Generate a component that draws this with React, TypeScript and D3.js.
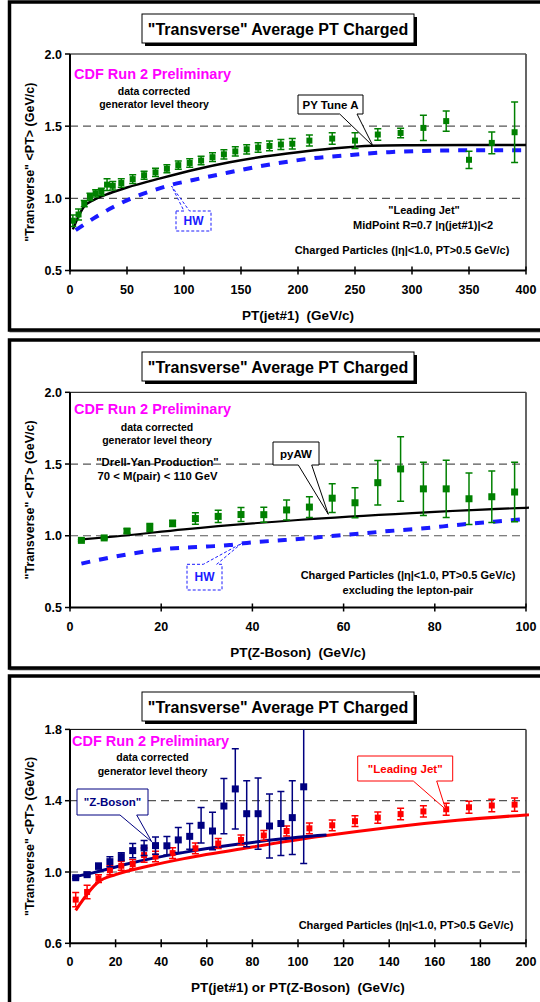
import React from 'react';
import * as d3 from 'd3';

const FONT = '"Liberation Sans", Arial, Helvetica, sans-serif';

// ---------- Data: "Leading Jet" (PT(jet#1)) ----------
const jetPt = [2.5, 7.5, 12.5, 17.5, 22.5, 27.5, 32.5, 37.5, 45, 55, 65, 75, 85, 95, 105, 115, 125, 135, 145, 155, 165, 175, 185, 195, 210, 230, 250, 270, 290, 310, 330, 350, 370, 390];
const jetAvgPt = [0.845, 0.888, 0.963, 1.01, 1.035, 1.045, 1.095, 1.087, 1.106, 1.133, 1.16, 1.18, 1.205, 1.23, 1.245, 1.262, 1.285, 1.305, 1.325, 1.34, 1.352, 1.363, 1.373, 1.378, 1.4, 1.414, 1.4, 1.442, 1.453, 1.488, 1.535, 1.267, 1.384, 1.458];
const jetErr = [0.04, 0.038, 0.022, 0.025, 0.025, 0.025, 0.04, 0.03, 0.03, 0.03, 0.028, 0.028, 0.028, 0.028, 0.03, 0.03, 0.03, 0.032, 0.032, 0.032, 0.033, 0.034, 0.035, 0.037, 0.038, 0.04, 0.055, 0.04, 0.033, 0.087, 0.07, 0.06, 0.075, 0.21];

// ---------- Data: Z-Boson (Drell-Yan) ----------
const zPt = [2.5, 7.5, 12.5, 17.5, 22.5, 27.5, 32.5, 37.5, 42.5, 47.5, 52.5, 57.5, 62.5, 67.5, 72.5, 77.5, 82.5, 87.5, 92.5, 97.5, 102.5];
const zAvgPt = [0.968, 0.985, 1.033, 1.058, 1.086, 1.12, 1.135, 1.148, 1.147, 1.18, 1.2, 1.262, 1.23, 1.37, 1.466, 1.327, 1.327, 1.258, 1.272, 1.305, 1.478];
const zErr = [0.006, 0.008, 0.016, 0.028, 0.022, 0.04, 0.042, 0.049, 0.052, 0.07, 0.072, 0.1, 0.105, 0.155, 0.225, 0.185, 0.2, 0.18, 0.18, 0.207, 0.43];

// ---------- Theory curves ----------
const pyTuneAPt = [2.5, 12.5, 20, 35, 50, 80, 110, 140, 170, 200, 230, 265, 300, 350, 400];
const pyTuneAAvg = [0.785, 0.945, 0.985, 1.035, 1.075, 1.14, 1.2, 1.25, 1.29, 1.32, 1.345, 1.364, 1.368, 1.37, 1.369];
const hwJetPt = [5, 23, 38, 54, 73, 88, 108, 138, 167, 196, 210, 240, 260, 280, 317, 347, 400];
const hwJetAvg = [0.78, 0.872, 0.94, 1.0, 1.055, 1.092, 1.127, 1.177, 1.223, 1.26, 1.275, 1.296, 1.31, 1.32, 1.33, 1.333, 1.333];
const pyAWPt = [2.5, 10, 25, 50, 75, 100, 112.5];
const pyAWAvg = [0.974, 0.995, 1.045, 1.11, 1.158, 1.195, 1.207];
const hwZPt = [2.5, 7.5, 12.5, 20, 30, 35, 38, 47, 60, 70, 77, 86, 93, 100];
const hwZAvg = [0.806, 0.84, 0.87, 0.905, 0.925, 0.935, 0.948, 0.97, 1.005, 1.033, 1.05, 1.079, 1.098, 1.116];

// ---------- Ticks ----------
const xTicksJet = [0, 50, 100, 150, 200, 250, 300, 350, 400];
const xTicksZ = [0, 20, 40, 60, 80, 100];
const xTicksBoth = [0, 20, 40, 60, 80, 100, 120, 140, 160, 180, 200];
const yTicksA = [0.5, 1.0, 1.5, 2.0];
const yTicksB = [0.6, 1.0, 1.4, 1.8];

const TITLE = '"Transverse" Average PT Charged';
const YLABEL = '"Transverse" <PT> (GeV/c)';

const PL = 70;
const PR = 526;

type Scale = d3.ScaleLinear<number, number>;

function zip(a: number[], b: number[]): [number, number][] {
  return a.map((v, i) => [v, b[i]] as [number, number]);
}

function Points(props: { xs: number[]; ys: number[]; es: number[]; x: Scale; y: Scale; color: string; size: number; xMax: number }) {
  const { xs, ys, es, x, y, color, size, xMax } = props;
  return (
    <g>
      {xs.map((v, i) => {
        if (v > xMax) return null;
        const cx = x(v);
        const cy = y(ys[i]);
        const y1 = y(ys[i] + es[i]);
        const y2 = y(ys[i] - es[i]);
        return (
          <g key={i}>
            <line x1={cx} x2={cx} y1={y1} y2={y2} stroke={color} strokeWidth={1.5} />
            <line x1={cx - 3.5} x2={cx + 3.5} y1={y1} y2={y1} stroke={color} strokeWidth={1.5} />
            <line x1={cx - 3.5} x2={cx + 3.5} y1={y2} y2={y2} stroke={color} strokeWidth={1.5} />
            <rect x={cx - size / 2} y={cy - size / 2} width={size} height={size} fill={color} />
          </g>
        );
      })}
    </g>
  );
}

function Callout(props: { x0: number; x1: number; y0: number; y1: number; b1: number; b2: number; tx: number; ty: number; side: 'top' | 'bottom'; color: string; dash?: string; text: string; fontSize: number }) {
  const { x0, x1, y0, y1, b1, b2, tx, ty, side, color, dash, text, fontSize } = props;
  const d =
    side === 'bottom'
      ? `M${x0},${y0}H${x1}V${y1}H${b2}L${tx},${ty}L${b1},${y1}H${x0}Z`
      : `M${x0},${y0}H${b1}L${tx},${ty}L${b2},${y0}H${x1}V${y1}H${x0}Z`;
  return (
    <g>
      <path d={d} fill="white" stroke={color} strokeWidth={1} strokeDasharray={dash} />
      <text x={(x0 + x1) / 2} y={(y0 + y1) / 2 + fontSize * 0.36} textAnchor="middle" fontFamily={FONT} fontWeight="bold" fontSize={fontSize} fill={color}>
        {text}
      </text>
    </g>
  );
}

interface PanelCfg {
  id: string;
  o: number;
  xMax: number;
  yMin: number;
  yMax: number;
  top: number;
  bottom: number;
  xTicks: number[];
  yTicks: number[];
  grids: number[];
  titleTop: number;
  xTitle: string;
  frameH: number;
}

function Panel(props: { cfg: PanelCfg; children: (x: Scale, y: Scale) => React.ReactNode; }) {
  const { cfg, children } = props;
  const { o, xMax, yMin, yMax, top, bottom, xTicks, yTicks, grids, titleTop, xTitle, frameH, id } = cfg;
  const x = d3.scaleLinear().domain([0, xMax]).range([PL, PR]);
  const y = d3.scaleLinear().domain([yMin, yMax]).range([o + bottom, o + top]);
  const T = o + top;
  const B = o + bottom;
  return (
    <g>
      {/* outer frame */}
      <rect x={9.5} y={o + 2} width={560} height={frameH} fill="white" stroke="black" strokeWidth={3.5} />
      <line x1={9.5} x2={560} y1={o + 2 + frameH + 1.5} y2={o + 2 + frameH + 1.5} stroke="#222" strokeWidth={1.5} />
      {/* title box */}
      <rect x={145} y={o + titleTop + 3} width={272} height={29} fill="black" />
      <rect x={142} y={o + titleTop} width={272} height={29} fill="white" stroke="black" strokeWidth={1} />
      <text x={278} y={o + titleTop + 20.5} textAnchor="middle" fontFamily={FONT} fontWeight="bold" fontSize={16}>
        {TITLE}
      </text>
      <defs>
        <clipPath id={`clip-${id}`}>
          <rect x={PL - 6} y={T} width={PR - PL + 9} height={B - T} />
        </clipPath>
      </defs>
      {/* plot frame top/right */}
      <line x1={PL} x2={PR} y1={T} y2={T} stroke="black" strokeWidth={1} />
      <line x1={PR} x2={PR} y1={T} y2={B} stroke="#555" strokeWidth={1.8} />
      {/* grid */}
      {grids.map((g) => (
        <line key={g} x1={PL} x2={PR} y1={y(g)} y2={y(g)} stroke="#555" strokeWidth={1.2} strokeDasharray="8 5" />
      ))}
      <g clipPath={`url(#clip-${id})`}>{children(x, y)}</g>
      {/* axes */}
      <line x1={PL} x2={PL} y1={T} y2={B + 1} stroke="black" strokeWidth={2} />
      <line x1={PL} x2={PR} y1={B} y2={B} stroke="black" strokeWidth={2} />
      {xTicks.map((t) => (
        <g key={t}>
          <line x1={x(t)} x2={x(t)} y1={B - 4} y2={B + 4} stroke="black" strokeWidth={1.5} />
          <text x={x(t)} y={B + 23} textAnchor="middle" fontFamily={FONT} fontWeight="bold" fontSize={12.5}>
            {t}
          </text>
        </g>
      ))}
      {yTicks.map((t) => (
        <g key={t}>
          <line x1={PL - 5} x2={PL} y1={y(t)} y2={y(t)} stroke="black" strokeWidth={1.5} />
          <text x={62} y={y(t) + 4.5} textAnchor="end" fontFamily={FONT} fontWeight="bold" fontSize={12.5}>
            {t.toFixed(1)}
          </text>
        </g>
      ))}
      <text transform={`translate(30,${(T + B) / 2}) rotate(-90)`} textAnchor="middle" dominantBaseline="central" fontFamily={FONT} fontWeight="bold" fontSize={12.5}>
        {YLABEL}
      </text>
      <text x={298} y={B + 49} textAnchor="middle" fontFamily={FONT} fontWeight="bold" fontSize={13.5} style={{ whiteSpace: 'pre' }}>
        {xTitle}
      </text>
    </g>
  );
}

function Txt(props: { x: number; y: number; size: number; anchor?: string; color?: string; children: React.ReactNode }) {
  const { x, y, size, anchor, color, children } = props;
  return (
    <text x={x} y={y} textAnchor={anchor || 'middle'} fontFamily={FONT} fontWeight="bold" fontSize={size} fill={color || 'black'} style={{ whiteSpace: 'pre' }}>
      {children}
    </text>
  );
}

export default function App() {
  const lineGen = (x: Scale, y: Scale) =>
    d3
      .line<[number, number]>()
      .x((d) => x(d[0]))
      .y((d) => y(d[1]))
      .curve(d3.curveMonotoneX);

  const p1: PanelCfg = { id: 'p1', o: 0, xMax: 400, yMin: 0.5, yMax: 2.0, top: 54, bottom: 270.5, xTicks: xTicksJet, yTicks: yTicksA, grids: [1.0, 1.5], titleTop: 14, xTitle: 'PT(jet#1)  (GeV/c)', frameH: 328 };
  const p2: PanelCfg = { id: 'p2', o: 338, xMax: 100, yMin: 0.5, yMax: 2.0, top: 54.3, bottom: 269.5, xTicks: xTicksZ, yTicks: yTicksA, grids: [1.0, 1.5], titleTop: 14, xTitle: 'PT(Z-Boson)  (GeV/c)', frameH: 328 };
  const p3: PanelCfg = { id: 'p3', o: 674, xMax: 200, yMin: 0.6, yMax: 1.8, top: 55.4, bottom: 269.3, xTicks: xTicksBoth, yTicks: yTicksB, grids: [1.0, 1.4], titleTop: 18, xTitle: 'PT(jet#1) or PT(Z-Boson)  (GeV/c)', frameH: 360 };

  const eta = 'η';

  return (
    <svg width={540} height={1002} style={{ position: 'absolute', left: 0, top: 0, background: 'white' }} xmlns="http://www.w3.org/2000/svg">
      <rect x={0} y={0} width={540} height={1002} fill="white" />
      {/* Panel 1 */}
      <Panel cfg={p1}>
        {(x, y) => (
          <g>
            <path d={lineGen(x, y)(zip(hwJetPt, hwJetAvg)) || ''} fill="none" stroke="#1a1aff" strokeWidth={4} strokeDasharray="9 9" />
            <path d={lineGen(x, y)(zip(pyTuneAPt, pyTuneAAvg)) || ''} fill="none" stroke="black" strokeWidth={2.5} />
            <Points xs={jetPt} ys={jetAvgPt} es={jetErr} x={x} y={y} color="#008000" size={6} xMax={400} />
          </g>
        )}
      </Panel>
      <Txt x={74} y={78.5} size={14.5} anchor="start" color="#ff00ff">CDF Run 2 Preliminary</Txt>
      <Txt x={154} y={94.5} size={10.5}>data corrected</Txt>
      <Txt x={154} y={108} size={10.5}>generator level theory</Txt>
      <Txt x={424} y={213.5} size={11}>"Leading Jet"</Txt>
      <Txt x={423} y={228.5} size={11}>{`MidPoint R=0.7 |${eta}(jet#1)|<2`}</Txt>
      <Txt x={402} y={254} size={11}>{`Charged Particles (|${eta}|<1.0, PT>0.5 GeV/c)`}</Txt>
      <Callout x0={298} x1={363} y0={95} y1={114} b1={339.7} b2={357} tx={373} ty={146} side="bottom" color="black" text="PY Tune A" fontSize={11.5} />
      <Callout x0={176} x1={211} y0={211} y1={231} b1={184} b2={189.5} tx={171.5} ty={186} side="top" color="#1a1aff" dash="3 2" text="HW" fontSize={12} />

      {/* Panel 2 */}
      <Panel cfg={p2}>
        {(x, y) => (
          <g>
            <path d={lineGen(x, y)(zip(hwZPt, hwZAvg)) || ''} fill="none" stroke="#1a1aff" strokeWidth={4} strokeDasharray="9 9" />
            <path d={lineGen(x, y)(zip(pyAWPt, pyAWAvg)) || ''} fill="none" stroke="black" strokeWidth={2.2} />
            <Points xs={zPt} ys={zAvgPt} es={zErr} x={x} y={y} color="#008000" size={7} xMax={100} />
          </g>
        )}
      </Panel>
      <Txt x={74} y={338 + 75.5} size={14.5} anchor="start" color="#ff00ff">CDF Run 2 Preliminary</Txt>
      <Txt x={157} y={338 + 92.5} size={10.5}>data corrected</Txt>
      <Txt x={157} y={338 + 106.3} size={10.5}>generator level theory</Txt>
      <Txt x={157.5} y={338 + 128.3} size={11.3}>"Drell-Yan Production"</Txt>
      <Txt x={157.5} y={338 + 141.5} size={11.3}>70 &lt; M(pair) &lt; 110 GeV</Txt>
      <Txt x={408} y={338 + 241.4} size={11}>{`Charged Particles (|${eta}|<1.0, PT>0.5 GeV/c)`}</Txt>
      <Txt x={408} y={338 + 256} size={11}>excluding the lepton-pair</Txt>
      <Callout x0={273} x1={319} y0={338 + 104} y1={338 + 127} b1={298.3} b2={311.7} tx={328.3} ty={338 + 176.3} side="bottom" color="black" text="pyAW" fontSize={11.5} />
      <Callout x0={187} x1={222} y0={338 + 226.3} y1={338 + 252} b1={203.3} b2={216.7} tx={241.7} ty={338 + 205.3} side="top" color="#1a1aff" dash="3 2" text="HW" fontSize={12} />

      {/* Panel 3 */}
      <Panel cfg={p3}>
        {(x, y) => (
          <g>
            <path d={lineGen(x, y)(zip(pyTuneAPt, pyTuneAAvg).filter((d) => d[0] <= 230)) || ''} fill="none" stroke="#ff0000" strokeWidth={3} />
            <path d={lineGen(x, y)(zip(pyAWPt, pyAWAvg)) || ''} fill="none" stroke="#000080" strokeWidth={3} />
            <Points xs={jetPt} ys={jetAvgPt} es={jetErr} x={x} y={y} color="#ff0000" size={6} xMax={200} />
            <Points xs={zPt} ys={zAvgPt} es={zErr} x={x} y={y} color="#000080" size={7} xMax={200} />
          </g>
        )}
      </Panel>
      <Txt x={72} y={674 + 72} size={14.5} anchor="start" color="#ff00ff">CDF Run 2 Preliminary</Txt>
      <Txt x={152.5} y={674 + 87.3} size={10.5}>data corrected</Txt>
      <Txt x={152.5} y={674 + 100.8} size={10.5}>generator level theory</Txt>
      <Txt x={406} y={674 + 254.8} size={11}>{`Charged Particles (|${eta}|<1.0, PT>0.5 GeV/c)`}</Txt>
      <Callout x0={77} x1={148} y0={674 + 115} y1={674 + 141} b1={120} b2={136.7} tx={151.7} ty={674 + 167.7} side="bottom" color="#000080" text={'"Z-Boson"'} fontSize={11.5} />
      <Callout x0={357.7} x1={452.7} y0={674 + 82} y1={674 + 107} b1={413.3} b2={436.7} tx={445.7} ty={674 + 135.3} side="bottom" color="#ff0000" text={'"Leading Jet"'} fontSize={11.5} />
    </svg>
  );
}
